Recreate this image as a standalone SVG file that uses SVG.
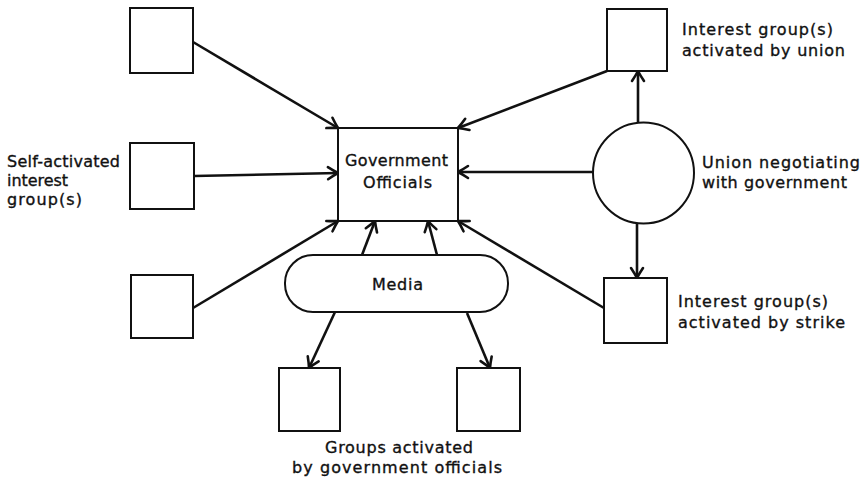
<svg xmlns="http://www.w3.org/2000/svg" width="865" height="478" viewBox="0 0 865 478">
<style>
.box{fill:#fff;stroke:#111;stroke-width:2}
.lbl{font-family:"DejaVu Sans",sans-serif;font-size:16px;fill:#111;stroke:#111;stroke-width:0.35}
.con{stroke:#111;stroke-width:2.6;fill:none;marker-end:url(#arr)}
</style>
<defs>
<marker id="arr" markerUnits="userSpaceOnUse" markerWidth="20" markerHeight="20" refX="0" refY="0" viewBox="-12 -10 14 20" orient="auto">
<path d="M-10,-6 Q-4,-2 0,0 Q-4,2 -10,6" fill="none" stroke="#111" stroke-width="2.6" stroke-linecap="round"/>
</marker>
</defs>
<rect width="865" height="478" fill="#fff"/>
<g id="connectors">
<line class="con" x1="193" y1="42" x2="338" y2="128"/>
<line class="con" x1="194" y1="176" x2="338" y2="173"/>
<line class="con" x1="193" y1="308" x2="338" y2="221"/>
<line class="con" x1="607" y1="71" x2="458" y2="128"/>
<line class="con" x1="593" y1="172" x2="458" y2="172"/>
<line class="con" x1="604" y1="308" x2="458" y2="221"/>
<line class="con" x1="638" y1="123" x2="638" y2="71"/>
<line class="con" x1="637" y1="223" x2="637" y2="278"/>
<line class="con" x1="362" y1="255" x2="375" y2="221"/>
<line class="con" x1="437" y1="255" x2="428" y2="221"/>
<line class="con" x1="335" y1="312" x2="309" y2="368"/>
<line class="con" x1="467" y1="313" x2="490" y2="368"/>
</g>
<g id="gov">
<rect class="box" x="338" y="128" width="120" height="93"/>
<text class="lbl" x="345" y="166" textLength="103" lengthAdjust="spacing">Government</text>
<text class="lbl" x="363" y="188" textLength="69" lengthAdjust="spacing">Officials</text>
</g>
<g id="box-tl"><rect class="box" x="130" y="8" width="63" height="65"/></g>
<g id="box-ml">
<rect class="box" x="130" y="143" width="64" height="66"/>
<text class="lbl" x="7" y="167" textLength="113" lengthAdjust="spacing">Self-activated</text>
<text class="lbl" x="7" y="186" textLength="61" lengthAdjust="spacing">interest</text>
<text class="lbl" x="7" y="205" textLength="75" lengthAdjust="spacing">group(s)</text>
</g>
<g id="box-bl"><rect class="box" x="131" y="275" width="62" height="63"/></g>
<g id="box-tr">
<rect class="box" x="607" y="9" width="60" height="62"/>
<text class="lbl" x="682" y="35" textLength="151" lengthAdjust="spacing">Interest group(s)</text>
<text class="lbl" x="682" y="56" textLength="163" lengthAdjust="spacing">activated by union</text>
</g>
<g id="union">
<circle cx="643.5" cy="173" r="50.5" fill="#fff" stroke="#111" stroke-width="2"/>
<text class="lbl" x="702" y="168" textLength="158" lengthAdjust="spacing">Union negotiating</text>
<text class="lbl" x="702" y="188" textLength="145" lengthAdjust="spacing">with government</text>
</g>
<g id="box-br">
<rect class="box" x="604" y="278" width="63" height="65"/>
<text class="lbl" x="678" y="307" textLength="150" lengthAdjust="spacing">Interest group(s)</text>
<text class="lbl" x="678" y="328" textLength="167" lengthAdjust="spacing">activated by strike</text>
</g>
<g id="media">
<rect class="box" x="285" y="255" width="223" height="57" rx="28" ry="28"/>
<text class="lbl" x="372" y="290" textLength="51" lengthAdjust="spacing">Media</text>
</g>
<g id="box-bl2"><rect class="box" x="279" y="368" width="61" height="63"/></g>
<g id="box-br2">
<rect class="box" x="457" y="368" width="63" height="63"/>
</g>
<g id="groups-label">
<text class="lbl" x="325" y="453" textLength="148" lengthAdjust="spacing">Groups activated</text>
<text class="lbl" x="292" y="473" textLength="210" lengthAdjust="spacing">by government officials</text>
</g>
</svg>
